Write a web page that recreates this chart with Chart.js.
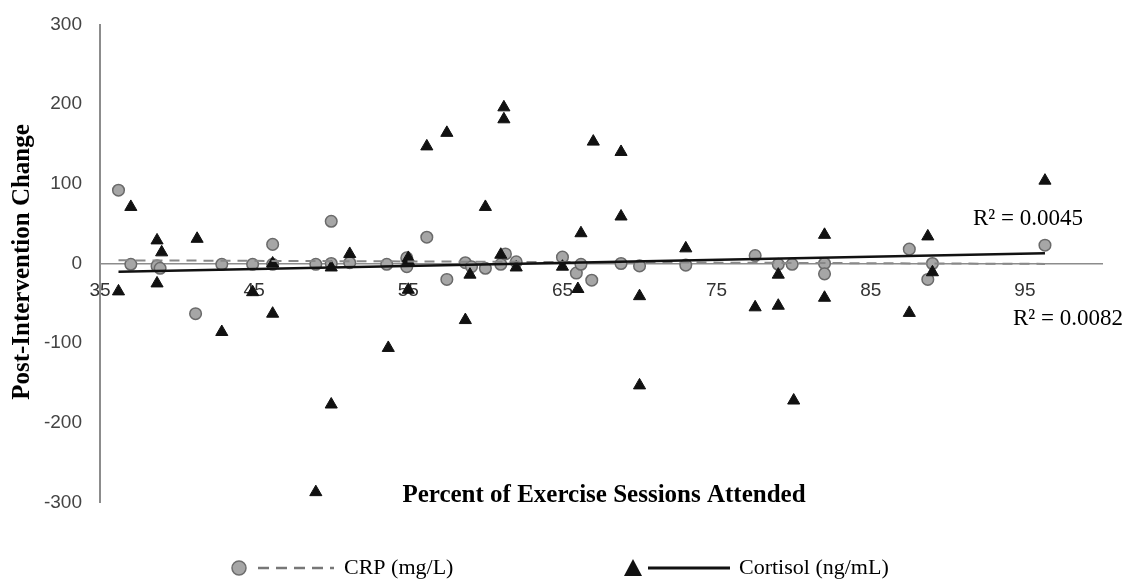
<!DOCTYPE html>
<html>
<head>
<meta charset="utf-8">
<script src="https://cdn.jsdelivr.net/npm/chart.js@4.4.0/dist/chart.umd.min.js"></script>
<style>
  html, body { margin: 0; padding: 0; background: #fff; }
  #wrap { width: 1132px; height: 582px; }
</style>
</head>
<body>
<div id="wrap"><canvas id="chart" width="1132" height="582"></canvas></div>
<script>
// values
const crpX = [36.2, 37.0, 38.7, 38.9, 41.2, 42.9, 44.9, 46.2, 46.2, 49.0, 50.0, 50.0, 51.2, 53.6, 54.9, 54.9, 56.2, 57.5, 58.7, 59.1,
              60.0, 61.0, 61.3, 62.0, 65.0, 65.9, 66.2, 66.9, 68.8, 70.0, 73.0, 77.5, 79.0, 79.9, 82.0, 82.0, 87.5, 88.7, 89.0, 96.3];
const crpY = [92, -1, -3, -6, -63, -1, -1, 24, -1, -1, 53, 0, 1, -1, 7, -4, 33, -20, 1, -4,
              -6, -1, 12, 2, 8, -12, -1, -21, 0, -3, -2, 10, -1, -1, 0, -13, 18, -20, 0, 23];

const cortX = [36.2, 37.0, 38.7, 39.0, 38.7, 41.3, 42.9, 44.9, 46.2, 46.2, 49.0, 50.0, 50.0, 51.2, 53.7, 55.0, 55.0, 55.0, 56.2, 57.5,
               58.7, 59.0, 60.0, 61.0, 61.2, 61.2, 62.0, 65.0, 66.0, 66.2, 67.0, 68.8, 68.8, 70.0, 70.0, 73.0, 77.5, 79.0, 79.0, 80.0,
               82.0, 82.0, 87.5, 88.7, 89.0, 96.3];
const cortY = [-35, 71, 29, 14, -25, 31, -86, -36, 0, -63, -287, -5, -177, 12, -106, 7, 3, -33, 147, 164,
               -71, -14, 71, 11, 196, 181, -5, -4, -32, 38, 153, 140, 59, -41, -153, 19, -55, -53, -14, -172,
               36, -43, -62, 34, -11, 104];

// linear trend lines (end points)
const trendX = [36.2, 96.3];
const crpTrendY = [4, -0.5];
const cortTrendY = [-10.5, 13];

const xTicks = [35, 45, 55, 65, 75, 85, 95];
const yTicks = [-300, -200, -100, 0, 100, 200, 300];
const seriesNames = ["CRP (mg/L)", "Cortisol (ng/mL)"];
const r2Labels = ["R\u00B2 = 0.0045", "R\u00B2 = 0.0082"];

const pts = (xs, ys) => xs.map((x, i) => ({ x: x, y: ys[i] }));

const extraText = {
    id: "extraText",
    afterDraw(chart) {
        const ctx = chart.ctx;
        ctx.save();
        ctx.fillStyle = "#000";
        ctx.textBaseline = "middle";

        // axis titles
        ctx.font = 'bold 25px "Liberation Serif"';
        ctx.textAlign = "center";
        ctx.fillText("Percent of Exercise Sessions Attended", 604, 496);
        ctx.save();
        ctx.translate(23, 262);
        ctx.rotate(-Math.PI / 2);
        ctx.fillText("Post-Intervention Change", 0, 0);
        ctx.restore();

        // R squared labels
        ctx.font = '23px "Liberation Serif"';
        ctx.textAlign = "left";
        ctx.fillText(r2Labels[0], 973, 219);
        ctx.fillText(r2Labels[1], 1013, 319);

        // legend
        const ly = 568;
        ctx.fillStyle = "#a6a6a6";
        ctx.strokeStyle = "#6e6e6e";
        ctx.lineWidth = 1.5;
        ctx.beginPath();
        ctx.arc(239, ly, 7, 0, Math.PI * 2);
        ctx.fill();
        ctx.stroke();
        ctx.strokeStyle = "#777";
        ctx.lineWidth = 2.5;
        ctx.setLineDash([11, 7]);
        ctx.beginPath();
        ctx.moveTo(258, ly);
        ctx.lineTo(334, ly);
        ctx.stroke();
        ctx.setLineDash([]);

        ctx.fillStyle = "#111";
        ctx.beginPath();
        ctx.moveTo(633, ly - 9);
        ctx.lineTo(642, ly + 8);
        ctx.lineTo(624, ly + 8);
        ctx.closePath();
        ctx.fill();
        ctx.strokeStyle = "#111";
        ctx.lineWidth = 3;
        ctx.beginPath();
        ctx.moveTo(648, ly);
        ctx.lineTo(730, ly);
        ctx.stroke();

        ctx.fillStyle = "#000";
        ctx.font = '22px "Liberation Serif"';
        ctx.fillText(seriesNames[0], 344, ly);
        ctx.fillText(seriesNames[1], 739, ly);
        ctx.restore();
    }
};

const ctx = document.getElementById("chart").getContext("2d");

new Chart(ctx, {
    type: "scatter",
    data: {
        datasets: [
            {
                label: seriesNames[1] + " trend",
                type: "line",
                data: pts(trendX, cortTrendY),
                borderColor: "#111",
                borderWidth: 2.5,
                pointRadius: 0,
                fill: false,
                order: -2
            },
            {
                label: seriesNames[0] + " trend",
                type: "line",
                data: pts(trendX, crpTrendY),
                borderColor: "#888",
                borderWidth: 2,
                borderDash: [10, 7],
                pointRadius: 0,
                fill: false,
                order: -1
            },
            {
                label: seriesNames[1],
                data: pts(cortX, cortY),
                pointStyle: "triangle",
                pointRadius: 7,
                backgroundColor: "#111",
                borderColor: "#111",
                borderWidth: 1,
                order: 0
            },
            {
                label: seriesNames[0],
                data: pts(crpX, crpY),
                pointStyle: "circle",
                pointRadius: 5.8,
                backgroundColor: "#a6a6a6",
                borderColor: "#6a6a6a",
                borderWidth: 1.5,
                order: 1
            }
        ]
    },
    options: {
        responsive: false,
        animation: false,
        events: [],
        layout: { padding: { top: 24.5, right: 30, bottom: 79.5, left: 0 } },
        plugins: {
            legend: { display: false },
            tooltip: { enabled: false }
        },
        scales: {
            x: {
                type: "linear",
                min: 35,
                max: 100,
                position: { y: 0 },
                afterFit: (s) => { s.height = 0; s.paddingLeft = 0; s.paddingRight = 0; },
                afterBuildTicks: (s) => { s.ticks = xTicks.map(v => ({ value: v })); },
                grid: { display: false, drawTicks: false },
                border: { display: true, color: "#8c8c8c", width: 1.5 },
                ticks: {
                    padding: 16,
                    maxRotation: 0,
                    autoSkip: false,
                    color: "#333",
                    font: { family: "Liberation Sans", size: 19 }
                }
            },
            y: {
                type: "linear",
                min: -300,
                max: 300,
                afterFit: (s) => { s.width = 100; s.paddingTop = 0; s.paddingBottom = 0; },
                afterBuildTicks: (s) => { s.ticks = yTicks.map(v => ({ value: v })); },
                grid: { display: false, drawTicks: false },
                border: { display: true, color: "#8c8c8c", width: 2 },
                ticks: {
                    padding: 18,
                    color: "#444",
                    font: { family: "Liberation Sans", size: 19 }
                }
            }
        }
    },
    plugins: [extraText]
});
</script>
</body>
</html>
